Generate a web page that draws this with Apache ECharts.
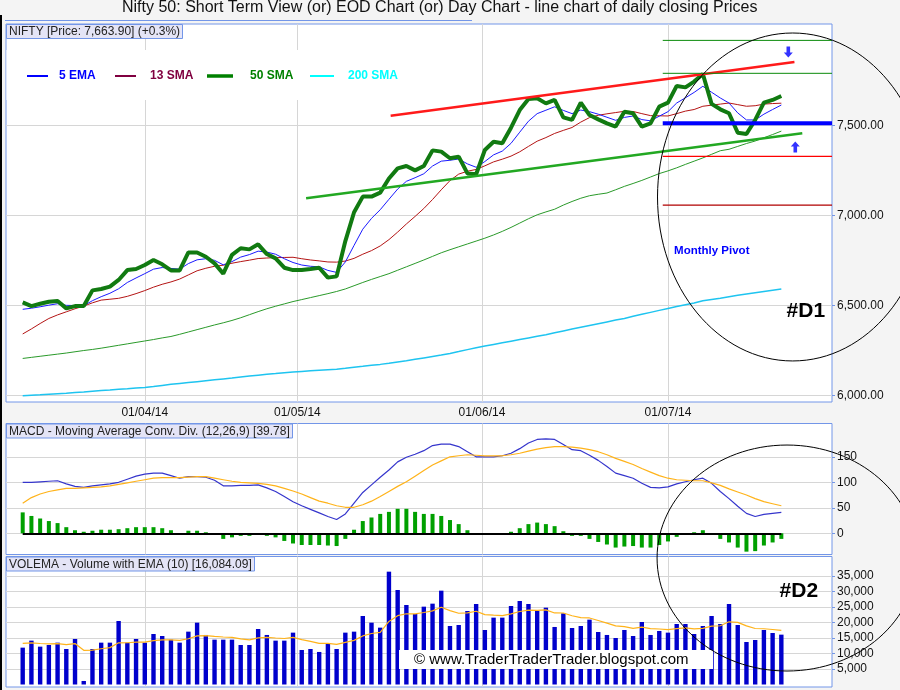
<!DOCTYPE html>
<html><head><meta charset="utf-8">
<script src="https://cdn.jsdelivr.net/npm/echarts@6/dist/echarts.min.js"></script>
<style>html,body{margin:0;padding:0;background:#f4f4f4;}#c{width:900px;height:690px;}</style>
</head><body><div id="c"></div>
<script>
// ---- data (trading days 11 Mar 2014 .. 18 Jul 2014, index 0..87) ----
const closes = [6517,6497,6510,6521,6525,6484,6497,6497,6584,6592,
 6605,6642,6697,6703,6725,6753,6729,6695,6695,6795,
 6795,6771,6734,6677,6781,6818,6812,6840,6786,6762,
 6710,6697,6697,6703,6710,6655,6662,6858,7018,7105,
 7105,7127,7206,7262,7275,7251,7275,7362,7355,7318,
 7327,7234,7229,7364,7410,7401,7488,7586,7647,7651,
 7623,7643,7545,7531,7627,7558,7534,7512,7494,7577,
 7568,7494,7512,7605,7627,7720,7712,7744,7786,7620,
 7590,7568,7460,7453,7531,7627,7642,7664];
const ema5 = [6479,6485,6493,6502,6510,6501,6500,6499,6527,6549,
 6568,6593,6628,6653,6677,6702,6711,6706,6702,6733,
 6754,6760,6751,6726,6744,6769,6783,6802,6797,6785,
 6760,6739,6725,6718,6715,6695,6684,6742,6834,6924,
 6984,7032,7090,7147,7190,7210,7232,7275,7302,7307,
 7314,7287,7268,7300,7337,7358,7401,7463,7524,7566,
 7585,7604,7584,7566,7586,7577,7563,7546,7529,7545,
 7553,7533,7526,7552,7577,7625,7654,7684,7718,7685,
 7653,7625,7570,7531,7531,7563,7589,7614];
const sma13 = [6342,6370,6400,6428,6448,6465,6482,6497,6515,6530,
 6535,6540,6551,6566,6583,6602,6618,6631,6647,6670,
 6693,6707,6718,6724,6735,6744,6752,6761,6764,6766,
 6767,6768,6760,6753,6748,6742,6741,6747,6762,6785,
 6805,6831,6866,6908,6953,6995,7039,7089,7143,7194,
 7230,7246,7256,7276,7298,7313,7330,7354,7384,7413,
 7433,7456,7473,7489,7519,7544,7557,7565,7572,7579,
 7578,7566,7555,7554,7553,7566,7580,7589,7607,7613,
 7619,7625,7616,7607,7610,7619,7622,7624];
const sma50 = [6206,6212,6218,6224,6230,6236,6243,6250,6256,6263,
 6271,6279,6287,6295,6303,6311,6320,6328,6340,6353,
 6366,6379,6392,6404,6417,6432,6449,6466,6482,6496,
 6509,6522,6533,6544,6555,6566,6578,6592,6610,6628,
 6645,6661,6677,6696,6715,6734,6753,6773,6793,6810,
 6826,6842,6858,6874,6892,6912,6934,6958,6982,7004,
 7020,7035,7058,7078,7096,7110,7118,7125,7143,7162,
 7178,7195,7214,7233,7248,7265,7284,7302,7320,7340,
 7360,7368,7384,7400,7414,7432,7450,7469];
const sma200 = [5999,6002,6004,6007,6010,6013,6017,6020,6024,6028,
 6031,6035,6038,6042,6045,6050,6056,6062,6067,6072,
 6077,6082,6087,6092,6097,6103,6108,6113,6118,6122,
 6127,6131,6134,6137,6140,6143,6146,6151,6157,6162,
 6168,6173,6179,6186,6193,6201,6209,6217,6225,6234,
 6244,6255,6265,6275,6284,6293,6302,6311,6320,6329,
 6338,6349,6359,6369,6379,6389,6399,6409,6419,6428,
 6440,6451,6462,6473,6484,6494,6504,6514,6527,6534,
 6541,6549,6557,6564,6571,6578,6585,6592];
const macdLine = [100,100,101,102,103,97,92,90,93,95,
 97,100,106,112,116,118,118,113,108,111,
 111,110,104,93,93,94,94,95,89,82,
 72,62,54,47,40,33,27,38,59,80,
 95,110,124,140,149,155,162,172,175,175,
 170,160,150,150,150,152,157,166,177,184,
 185,184,174,164,162,153,143,131,118,113,
 108,98,90,89,91,97,101,105,108,98,
 82,68,53,39,33,37,39,41];
const macdSignal = [59,70,77,82,85,88,88,89,90,91,
 93,96,99,102,105,108,109,109,109,110,
 111,111,108,105,102,100,99,98,96,93,
 88,83,77,70,63,59,54,51,51,56,
 63,72,82,92,101,112,123,134,142,150,
 152,154,153,152,152,152,154,157,161,165,
 168,170,170,169,167,164,160,154,147,141,
 135,127,120,113,108,105,104,103,103,99,
 94,87,81,75,68,62,58,54];
const macdHist = [41,34,29,24,20,12,6,3,5,7,
 7,8,10,12,12,12,10,6,0,5,
 5,2,-3,-11,-8,-5,-5,-3,-5,-8,
 -15,-20,-23,-23,-23,-24,-25,-11,7,24,
 31,38,42,48,48,42,38,38,34,26,
 18,6,-2,0,0,0,3,10,18,21,
 18,14,4,-5,-5,-11,-17,-22,-28,-26,
 -25,-28,-28,-23,-16,-7,-3,2,6,-2,
 -11,-18,-28,-36,-35,-24,-18,-11];
const volumes = [11890,14150,12215,12750,13500,11460,14690,1140,11460,13500,
 13500,20490,13500,14690,13500,16300,15650,14470,13500,17050,
 19950,15980,14470,14470,14470,12750,12750,17910,15980,14150,
 14150,16730,11140,11460,10500,13070,11460,16730,17050,22100,
 19950,18340,36400,30490,25650,22750,25110,26080,30270,18880,
 19200,23720,25975,17590,21570,21570,25330,26940,25975,23720,
 24790,18560,22965,18235,18880,20920,16945,15980,15010,17590,
 15650,20170,15980,17270,16730,19525,19525,16300,18880,22100,
 19525,25975,19200,13720,14365,17590,16620,16084];
const volEma = [13290,13446,13222,13136,13202,12885,13213,11018,11098,11535,
 11892,13455,13463,13686,13652,14133,14409,14420,14253,14762,
 15705,15755,15521,15330,15174,14733,14372,15015,15190,15001,
 14846,15189,14453,13909,13289,13249,12924,13616,14240,15669,
 16447,16791,20356,22198,22826,22812,23230,23748,24934,23833,
 22991,23124,23642,22542,22365,22220,22785,23540,23983,23935,
 24090,23085,23063,22185,21584,21463,20642,19794,18924,18681,
 18130,18501,18043,17902,17689,18023,18296,17933,18105,18831,
 18957,20233,20045,18895,18071,17984,17736,17436];

const monthTickPos = [14, 31.5, 52.67, 74];
const monthTickLabels = ['01/04/14','01/05/14','01/06/14','01/07/14'];
const priceTicks = [6000, 6500, 7000, 7500];
const macdTicks = [0, 50, 100, 150];
const volTicks = [5000, 10000, 15000, 20000, 25000, 30000, 35000];

const resistanceLine = [[42.2, 7554], [88.5, 7853]];
const supportLine = [[32.5, 7096], [89.4, 7457]];
const pivotStart = 73.4;
const pivotLevels = [7973, 7790, 7512, 7329, 7058];
const arrowDown = [[87.8, 7908]];
const arrowUp = [[88.6, 7381]];

// ---- layout / style ----
const X_MIN = -1.915, X_MAX = 92.81;
const FONT = 'Liberation Sans, Arial, Helvetica, sans-serif';
const BORDER = '#7396e8';
const GRIDC = '#d6d6d6';
const idx = arr => arr.map((v, i) => [i, v]);
const fmtPrice = v => Number(v).toLocaleString('en-US', {minimumFractionDigits: 2, maximumFractionDigits: 2});
const fmtInt = v => Number(v).toLocaleString('en-US');
const monthLabel = v => { const k = monthTickPos.findIndex(p => Math.abs(p - v) < 0.01); return k >= 0 ? monthTickLabels[k] : ''; };

const grids = [
  {left: 6, right: 68, top: 24, height: 378},
  {left: 6, right: 68, top: 423.5, height: 131},
  {left: 6, right: 68, top: 556.5, height: 130.5}
].map(g => Object.assign(g, {show: true, backgroundColor: '#fff', borderColor: BORDER, borderWidth: 1}));

const xAxes = [0, 1, 2].map(g => ({
  gridIndex: g, type: 'value', min: X_MIN, max: X_MAX,
  axisLine: {show: false, onZero: false},
  axisTick: {show: false, customValues: monthTickPos},
  axisLabel: {show: g === 0, customValues: monthTickPos, formatter: monthLabel, color: '#111', fontSize: 12, margin: 5, fontFamily: FONT},
  splitLine: {show: true, lineStyle: {color: GRIDC, width: 1}}
}));

function yAxis(g, min, max, ticks, fmt) {
  return {
    gridIndex: g, type: 'value', position: 'right', min: min, max: max,
    axisLine: {show: false, onZero: false},
    axisTick: {show: true, customValues: ticks, length: 3, lineStyle: {color: BORDER}},
    axisLabel: {customValues: ticks, formatter: fmt, color: '#111', fontSize: 12, margin: 5, fontFamily: FONT},
    splitLine: {show: true, lineStyle: {color: GRIDC, width: 1}}
  };
}
const yAxes = [
  yAxis(0, 5964, 8064, priceTicks, fmtPrice),
  yAxis(1, -41.6, 215.3, macdTicks, v => String(v)),
  yAxis(2, -806, 41293, volTicks, fmtInt)
];

function line(name, data, color, width, g, z) {
  return {name: name, type: 'line', xAxisIndex: g, yAxisIndex: g, data: data, symbol: 'none',
    lineStyle: {color: color, width: width}, itemStyle: {color: color}, z: z || 2, silent: true, animation: false};
}

const series = [
  line('200 SMA', idx(sma200), '#1ec4f0', 1.5, 0, 2),
  line('50 SMA', idx(sma50), '#2a9a2a', 1, 0, 2),
  line('13 SMA', idx(sma13), '#b41414', 1, 0, 2),
  line('5 EMA', idx(ema5), '#1a1aff', 1, 0, 2),
  line('NIFTY', idx(closes), '#117a11', 4, 0, 3),
  line('Resistance', resistanceLine, '#ff1a1a', 2.5, 0, 4),
  line('Support', supportLine, '#22a822', 2.5, 0, 4)
];
const pivotColors = ['#0a8a0a', '#0a8a0a', '#0000ff', '#ff0000', '#b00000'];
const pivotWidths = [1, 1, 4, 1.2, 1.2];
pivotLevels.forEach((lv, k) => {
  series.push(line('Pivot ' + k, [[pivotStart, lv], [X_MAX, lv]], pivotColors[k], pivotWidths[k], 0, 4));
});
series.push({type: 'scatter', xAxisIndex: 0, yAxisIndex: 0, data: arrowDown, symbol: 'path://M3,0 H7 V6 H10 L5,11 L0,6 H3 Z', symbolSize: [9, 11], itemStyle: {color: '#0000ff'}, z: 5, silent: true, animation: false});
series.push({type: 'scatter', xAxisIndex: 0, yAxisIndex: 0, data: arrowUp, symbol: 'path://M5,0 L10,5 H7 V11 H3 V5 H0 Z', symbolSize: [9, 11], itemStyle: {color: '#0000ff'}, z: 5, silent: true, animation: false});

series.push({name: 'Hist', type: 'bar', xAxisIndex: 1, yAxisIndex: 1, data: idx(macdHist), barWidth: 4, itemStyle: {color: '#00a000'}, silent: true, animation: false,
  markLine: {silent: true, symbol: 'none', label: {show: false}, lineStyle: {color: '#000', width: 2, type: 'solid'},
    data: [[{coord: [0, 0]}, {coord: [macdHist.length - 1, 0]}]]}});
series.push(line('MACD', idx(macdLine), '#3535cc', 1.2, 1, 3));
series.push(line('Signal', idx(macdSignal), '#ffb31a', 1.2, 1, 3));
series.push({name: 'Volume', type: 'bar', xAxisIndex: 2, yAxisIndex: 2, data: idx(volumes), barWidth: 4.4, itemStyle: {color: '#0000cc'}, silent: true, animation: false});
series.push(line('VolEMA', idx(volEma), '#ffb31a', 1.2, 2, 3));

function legendItem(left, name, color, iconColor, width, height, pad) {
  return {left: left, top: 70, padding: 0, selectedMode: false, icon: 'rect', itemWidth: width, itemHeight: height,
    data: [{name: name, itemStyle: {color: iconColor, borderWidth: 0}}],
    textStyle: {color: color, fontWeight: 'bold', fontSize: 12, fontFamily: FONT, padding: [0, 0, 0, pad]}};
}

const labelBox = (text, top) => ({text: text, left: 6, top: top, padding: [2, 3, 1, 3], backgroundColor: '#e4e4f6', borderColor: BORDER, borderWidth: 1,
  textStyle: {fontSize: 12, fontWeight: 'normal', color: '#222', fontFamily: FONT}});

const option = {
  animation: false,
  backgroundColor: '#f4f4f4',
  textStyle: {fontFamily: FONT},
  title: [
    {text: 'Nifty 50: Short Term View (or) EOD Chart (or) Day Chart - line chart of daily closing Prices', left: 122, top: 0, padding: 0,
      textStyle: {fontSize: 16, fontWeight: 'normal', color: '#111', fontFamily: FONT}},
    labelBox('NIFTY [Price: 7,663.90] (+0.3%)', 24),
    labelBox('MACD - Moving Average Conv. Div. (12,26,9) [39.78]', 423.5),
    labelBox('VOLEMA - Volume with EMA (10) [16,084.09]', 556.5)
  ],
  legend: [
    legendItem(27, '5 EMA', '#0000ff', '#0000ff', 21, 2, 6),
    legendItem(115, '13 SMA', '#800040', '#800040', 21, 2, 9),
    legendItem(207, '50 SMA', '#008000', '#008000', 26, 3.5, 12),
    legendItem(310, '200 SMA', '#00ffff', '#00ffff', 24, 2, 9)
  ],
  grid: grids,
  xAxis: xAxes,
  yAxis: yAxes,
  series: series
};

const chart = echarts.init(document.getElementById('c'));
chart.setOption(option);

// ---- annotations placed from data coordinates ----
const p0 = pt => chart.convertToPixel({gridIndex: 0}, pt);
const p2 = pt => chart.convertToPixel({gridIndex: 2}, pt);
const e1c = p0([88.3, 7103]), e1r = p0([88.3 + 15.5, 7103 + 911]);
const e2c = p2([87.65, 40800]), e2r = p2([87.65 + 14.9, 40800 + 36450]);
const tMP = p0([74.7, 6804]), tD1 = p0([87.6, 6471]), tD2 = p2([86.8, 29940]);

chart.setOption({
  graphic: [
    {type: 'rect', shape: {x: 6.5, y: 50, width: 433, height: 50}, style: {fill: '#fff'}, z: 1, silent: true},
    {type: 'line', shape: {x1: 5, y1: 20.5, x2: 472, y2: 20.5}, style: {stroke: BORDER, lineWidth: 1}, z: 1, silent: true},
    {type: 'line', shape: {x1: 1, y1: 15, x2: 1, y2: 690}, style: {stroke: '#000', lineWidth: 2}, z: 1, silent: true},
    {type: 'rect', shape: {x: 399, y: 650, width: 314, height: 19}, style: {fill: '#fff'}, z: 50, silent: true},
    {type: 'text', x: 414, y: 659.5, style: {text: '© www.TraderTraderTrader.blogspot.com', fill: '#000', font: '15px ' + FONT, verticalAlign: 'middle', align: 'left'}, z: 51, silent: true},
    {type: 'text', x: tMP[0], y: tMP[1], style: {text: 'Monthly Pivot', fill: '#0000ff', font: 'bold 11.5px ' + FONT, verticalAlign: 'middle', align: 'left'}, z: 60, silent: true},
    {type: 'text', x: tD1[0], y: tD1[1], style: {text: '#D1', fill: '#000', font: 'bold 21px ' + FONT, verticalAlign: 'middle', align: 'left'}, z: 60, silent: true},
    {type: 'text', x: tD2[0], y: tD2[1], style: {text: '#D2', fill: '#000', font: 'bold 21px ' + FONT, verticalAlign: 'middle', align: 'left'}, z: 60, silent: true},
    {type: 'ellipse', shape: {cx: e1c[0], cy: e1c[1], rx: Math.abs(e1r[0] - e1c[0]), ry: Math.abs(e1c[1] - e1r[1])}, style: {fill: 'none', stroke: '#000', lineWidth: 1}, z: 100, silent: true},
    {type: 'ellipse', shape: {cx: e2c[0], cy: e2c[1], rx: Math.abs(e2r[0] - e2c[0]), ry: Math.abs(e2c[1] - e2r[1])}, style: {fill: 'none', stroke: '#000', lineWidth: 1}, z: 100, silent: true}
  ]
});
</script>
</body></html>
